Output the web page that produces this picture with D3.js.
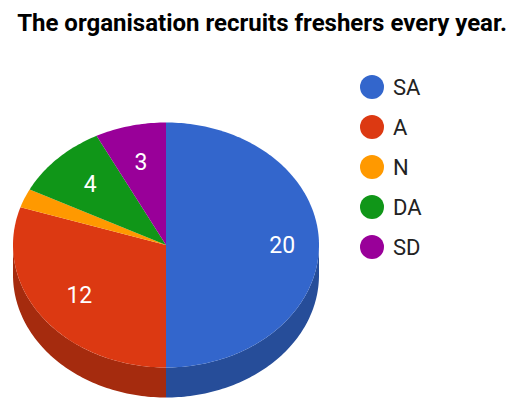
<!DOCTYPE html>
<html>
<head>
<meta charset="utf-8">
<script src="https://cdn.jsdelivr.net/npm/d3@7"></script>
<style>
  body { margin: 0; background: #fff; }
  text { font-family: Roboto, "Noto Sans", sans-serif; }
</style>
</head>
<body>
<div class="container"></div>
<script>
// data
const categories = ["SA", "A", "N", "DA", "SD"];
const values = [20, 12, 1, 4, 3];
const colors = ["#3366cc", "#dc3912", "#ff9900", "#109618", "#990099"];
const sideColors = ["#264d99", "#a52b0e", "#bf7300", "#0c7112", "#730073"];
const title = "The organisation recruits freshers every year.";

const w = 518;
const h = 420;
const cx = 166, cy = 245;
const rx = 153, ry = 122.5;
const depth = 30;

const svg = d3.select(".container")
  .append("svg")
  .attr("width", w)
  .attr("height", h);

svg.append("text")
  .attr("x", 262)
  .attr("y", 31)
  .attr("text-anchor", "middle")
  .attr("font-size", 24)
  .attr("font-weight", "bold")
  .attr("fill", "#000")
  .text(title);

const pie = d3.pie().sort(null).value(d => d.value);
const slices = pie(categories.map((c, i) => ({ name: c, value: values[i], i: i })));

// angle measured clockwise from 12 o'clock, squashed into an ellipse
const px = (a, r) => cx + rx * r * Math.sin(a);
const py = (a, r) => cy - ry * r * Math.cos(a);

const line = d3.line();

function arcPoints(a0, a1, dy) {
  const n = Math.max(2, Math.ceil((a1 - a0) / 0.02));
  const pts = [];
  for (let k = 0; k <= n; k++) {
    const a = a0 + (a1 - a0) * k / n;
    pts.push([px(a, 1), py(a, 1) + dy]);
  }
  return pts;
}

// side walls, only the front half shows
const front0 = Math.PI / 2, front1 = Math.PI * 3 / 2;
svg.append("g").selectAll("path")
  .data(slices.filter(d => d.endAngle > front0 && d.startAngle < front1))
  .enter()
  .append("path")
  .attr("fill", d => sideColors[d.data.i])
  .attr("d", d => {
    const a0 = Math.max(d.startAngle, front0);
    const a1 = Math.min(d.endAngle, front1);
    const topPts = arcPoints(a0, a1, 0);
    const botPts = arcPoints(a0, a1, depth).reverse();
    return line(topPts.concat(botPts)) + "Z";
  });

// top face
svg.append("g").selectAll("path")
  .data(slices)
  .enter()
  .append("path")
  .attr("fill", d => colors[d.data.i])
  .attr("d", d => line([[cx, cy]].concat(arcPoints(d.startAngle, d.endAngle, 0))) + "Z");

// value labels
svg.append("g").selectAll("text")
  .data(slices.filter(d => d.data.value >= 3))
  .enter()
  .append("text")
  .attr("x", d => px((d.startAngle + d.endAngle) / 2, d.data.i === 0 ? 0.76 : 0.7))
  .attr("y", d => py((d.startAngle + d.endAngle) / 2, 0.7))
  .attr("dy", "0.35em")
  .attr("text-anchor", "middle")
  .attr("font-size", 23)
  .attr("fill", "#fff")
  .text(d => d.data.value);

// legend
const legend = svg.append("g").selectAll("g")
  .data(categories)
  .enter()
  .append("g")
  .attr("transform", (d, i) => "translate(372," + (87 + i * 40) + ")");

legend.append("circle")
  .attr("r", 12)
  .attr("fill", (d, i) => colors[i]);

legend.append("text")
  .attr("x", 21)
  .attr("y", 8)
  .attr("font-size", 22)
  .attr("fill", "#222")
  .text(d => d);
</script>
</body>
</html>
